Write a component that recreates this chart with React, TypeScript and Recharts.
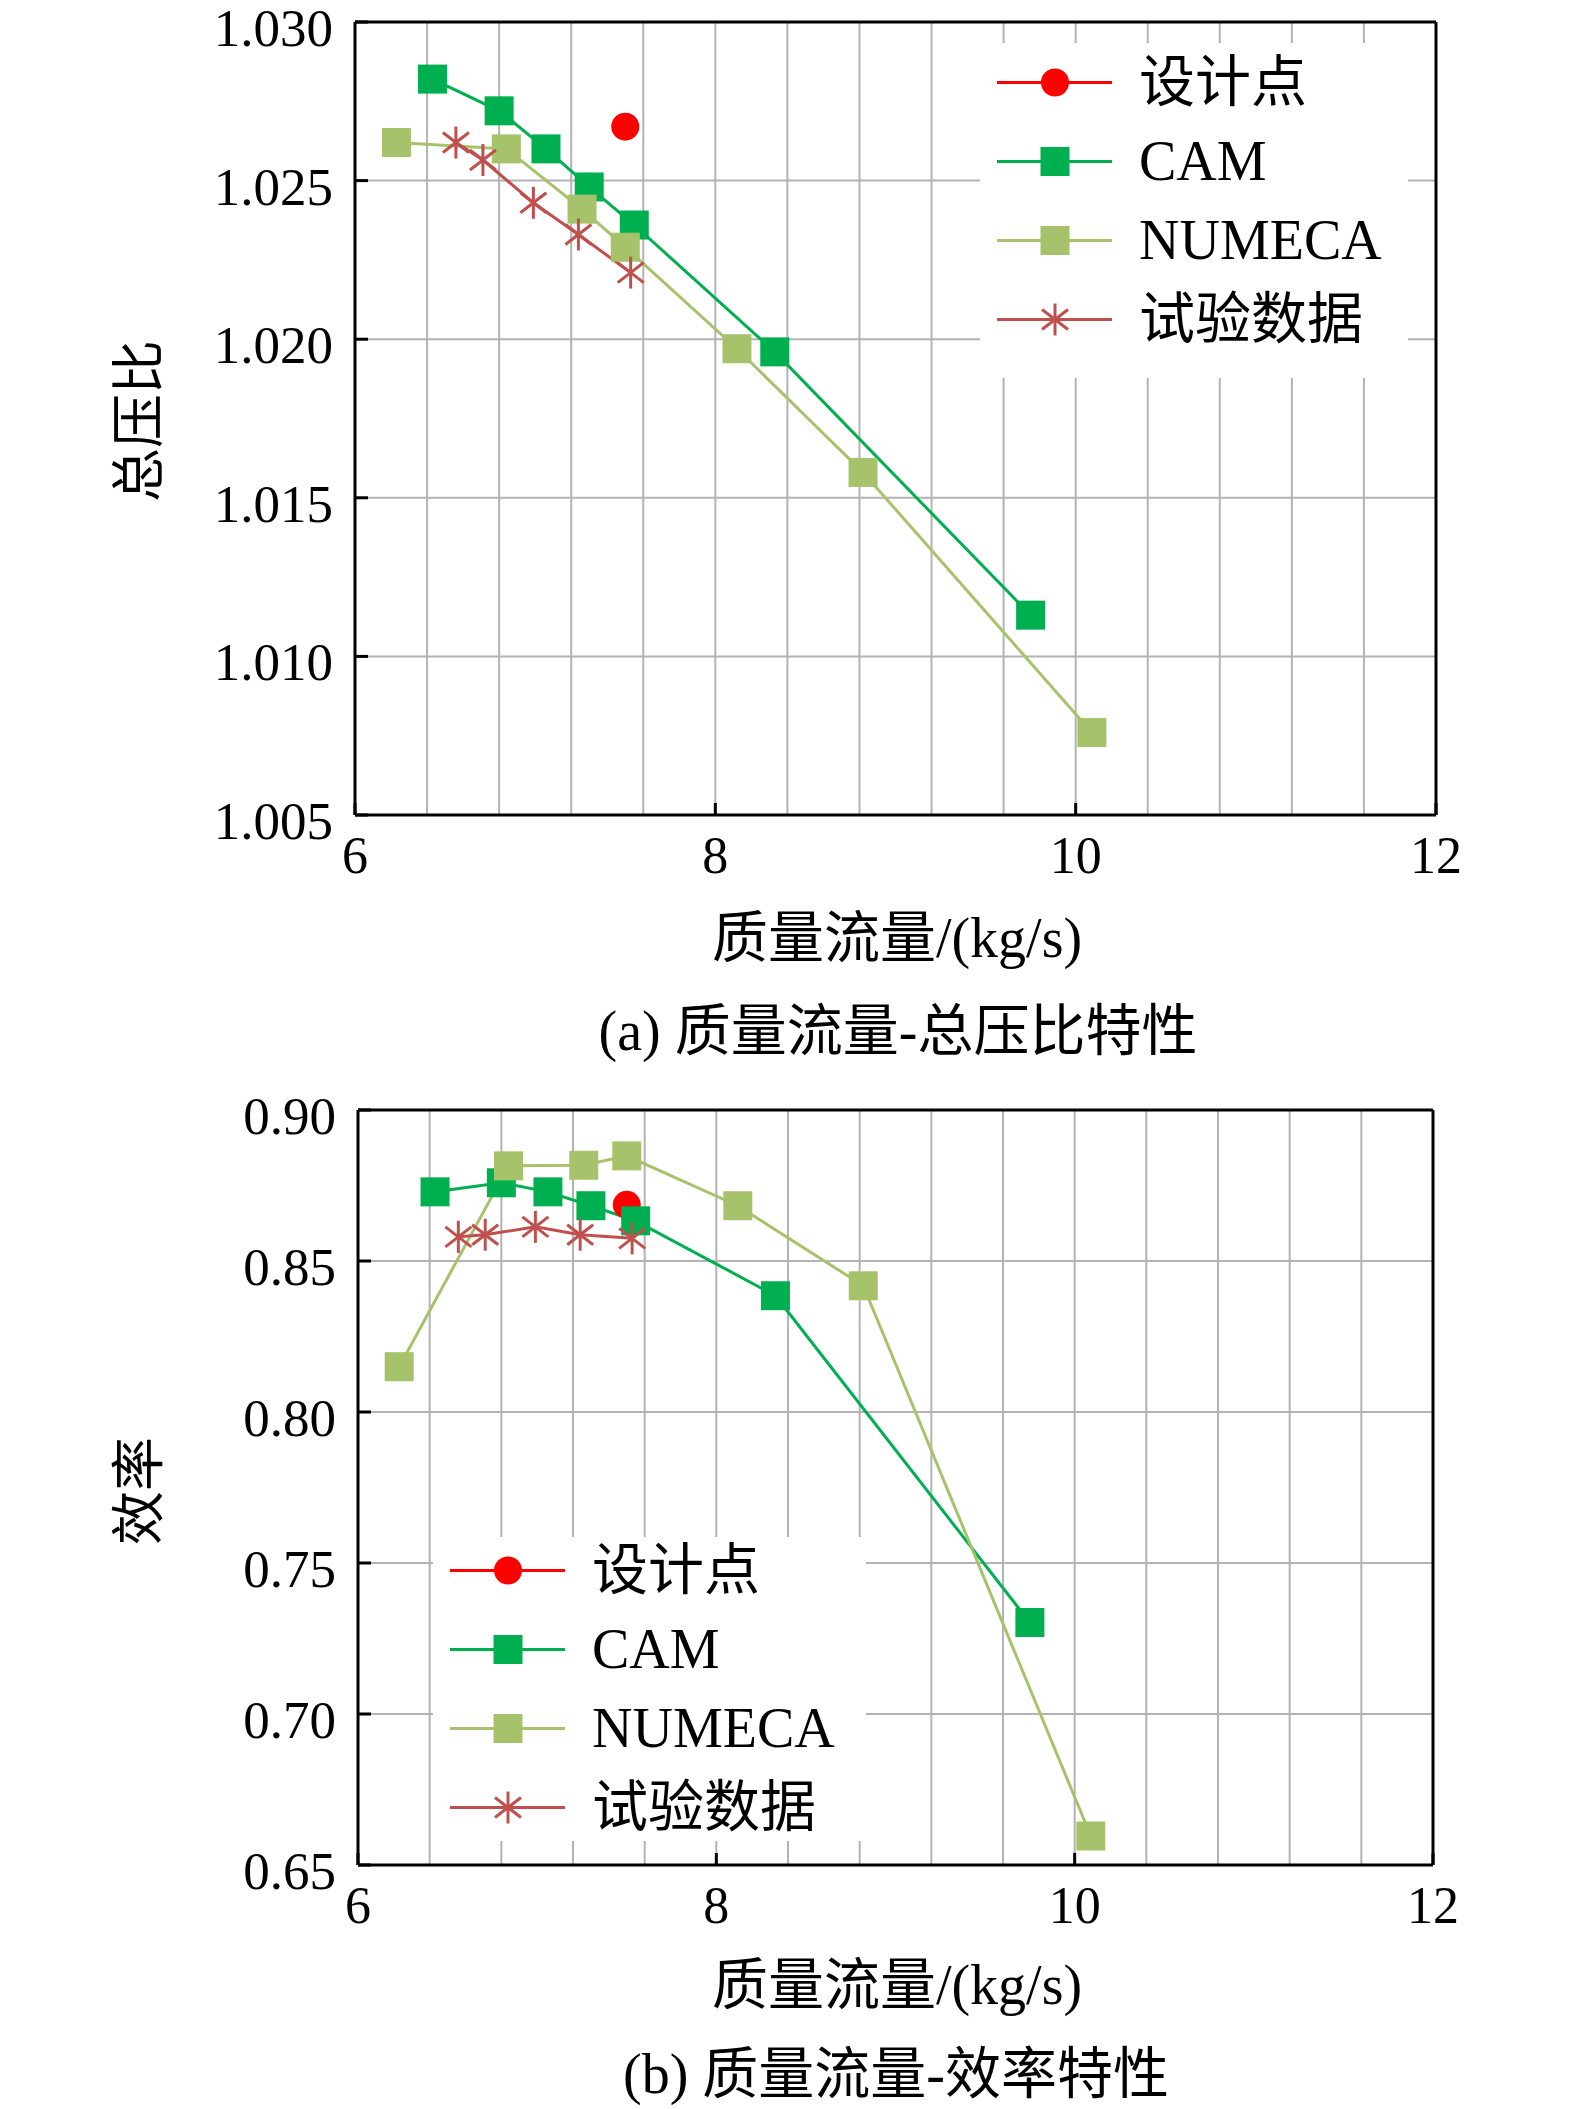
import {
  CartesianGrid,
  Legend,
  Line,
  LineChart,
  ReferenceLine,
  XAxis,
  YAxis
} from "recharts";

const FONT = '"Liberation Serif", "Noto Sans CJK SC", serif';

// mass flow (kg/s) for each series
const flowDesign = [7.5];
const flowCam = [6.43, 6.8, 7.06, 7.3, 7.55, 8.33, 9.75];
const flowNumeca = [6.23, 6.84, 7.26, 7.5, 8.12, 8.82, 10.09];
const flowTest = [6.56, 6.71, 6.99, 7.24, 7.53];

// (a) total pressure ratio
const ratioDesign = [1.0267];
const ratioCam = [1.0282, 1.0272, 1.026, 1.0248, 1.0236, 1.0196, 1.0113];
const ratioNumeca = [1.0262, 1.026, 1.0241, 1.0229, 1.0197, 1.0158, 1.0076];
const ratioTest = [1.0262, 1.02565, 1.0243, 1.0233, 1.0221];

// (b) efficiency
const effDesign = [0.8686];
const effCam = [0.8729, 0.8759, 0.8729, 0.8683, 0.8633, 0.8385, 0.7303];
const effNumeca = [0.815, 0.8815, 0.8817, 0.8848, 0.8683, 0.8418, 0.6596];
const effTest = [0.858, 0.8587, 0.8613, 0.8587, 0.8575];

const xTicks = [6, 8, 10, 12];
const gridX = [6.4, 6.8, 7.2, 7.6, 8, 8.4, 8.8, 9.2, 9.6, 10, 10.4, 10.8, 11.2, 11.6];
const ratioTicks = [1.005, 1.01, 1.015, 1.02, 1.025, 1.03];
const effTicks = [0.65, 0.7, 0.75, 0.8, 0.85, 0.9];

const seriesNames = ["设计点", "CAM", "NUMECA", "试验数据"];
const seriesColors = ["#FF0000", "#00B050", "#A6C36B", "#C0504D"];
const seriesMarkers = ["circle", "square", "square", "star"];

const zip = (xs: number[], ys: number[]) => xs.map((x, i) => ({ x, y: ys[i] }));

function Marker({ kind, cx, cy, color }: { kind: string; cx: number; cy: number; color: string }) {
  if (kind === "circle") return <circle cx={cx} cy={cy} r={14} fill={color} />;
  if (kind === "square") return <rect x={cx - 14.5} y={cy - 14.5} width={29} height={29} fill={color} />;
  return (
    <g stroke={color} strokeWidth={3}>
      <line x1={cx} y1={cy - 16} x2={cx} y2={cy + 16} />
      <line x1={cx - 13} y1={cy - 10} x2={cx + 13} y2={cy + 10} />
      <line x1={cx - 13} y1={cy + 10} x2={cx + 13} y2={cy - 10} />
    </g>
  );
}

const makeDot = (i: number) => (props: any) => {
  const { cx, cy, index } = props;
  if (cx == null || cy == null) return <g key={`d${i}-${index}`} />;
  return (
    <g key={`d${i}-${index}`}>
      <Marker kind={seriesMarkers[i]} cx={cx} cy={cy} color={seriesColors[i]} />
    </g>
  );
};

// ticks point into the plot; labels sit outside
const XTick = ({ x, y, payload }: any) => (
  <g>
    <line x1={x} x2={x} y1={y} y2={y - 12} stroke="#000" strokeWidth={3} />
    <text x={x} y={y + 40} textAnchor="middle" dominantBaseline="central" fontSize={52} fontFamily={FONT} fill="#000">
      {payload.value}
    </text>
  </g>
);

const makeYTick = (digits: number) => ({ x, y, payload }: any) => (
  <g>
    <line x1={x} x2={x + 13} y1={y} y2={y} stroke="#000" strokeWidth={3} />
    <text x={x - 22} y={y + 6} textAnchor="end" dominantBaseline="central" fontSize={53} fontFamily={FONT} fill="#000">
      {Number(payload.value).toFixed(digits)}
    </text>
  </g>
);

function LegendBox({ payload, shift }: any) {
  const items = seriesNames.filter((n) => (payload || []).some((p: any) => p.value === n));
  return (
    <div style={{ background: "#fff", width: "100%", height: "100%", fontFamily: FONT, fontSize: 56, color: "#000" }}>
      <div style={{ position: "relative", top: shift }}>
        {items.map((name) => {
          const i = seriesNames.indexOf(name);
          return (
            <div key={name} style={{ height: 79, display: "flex", alignItems: "center" }}>
              <svg width={140} height={79} style={{ flex: "none" }}>
                <line x1={17} x2={132} y1={39.5} y2={39.5} stroke={seriesColors[i]} strokeWidth={3} />
                <Marker kind={seriesMarkers[i]} cx={75} cy={39.5} color={seriesColors[i]} />
              </svg>
              <span style={{ marginLeft: 19, whiteSpace: "nowrap", lineHeight: "79px" }}>{name}</span>
            </div>
          );
        })}
      </div>
    </div>
  );
}

interface PanelProps {
  values: number[][];
  ticks: number[];
  digits: number;
  margin: { top: number; right: number; bottom: number; left: number };
  legendBox: { left: number; top: number; width: number; height: number; shift: number };
}

function Panel({ values, ticks, digits, margin, legendBox }: PanelProps) {
  const flows = [flowDesign, flowCam, flowNumeca, flowTest];
  const domain = [ticks[0], ticks[ticks.length - 1]];
  return (
    <LineChart width={1575} height={1059} margin={margin} style={{ overflow: "visible" }}>
      <CartesianGrid horizontal vertical={false} stroke="#b3b3b3" strokeWidth={2} />
      {gridX.map((g) => (
        <ReferenceLine key={g} x={g} stroke="#b3b3b3" strokeWidth={2} />
      ))}
      <XAxis
        dataKey="x"
        type="number"
        domain={[6, 12]}
        ticks={xTicks}
        interval={0}
        height={60}
        tick={<XTick />}
        tickSize={0}
        tickMargin={0}
        tickLine={false}
        axisLine={{ stroke: "#000", strokeWidth: 3 }}
      />
      <XAxis
        xAxisId="top"
        orientation="top"
        type="number"
        domain={[6, 12]}
        height={1}
        tick={false}
        tickLine={false}
        axisLine={{ stroke: "#000", strokeWidth: 3 }}
      />
      <YAxis
        type="number"
        domain={domain}
        ticks={ticks}
        interval={0}
        width={100}
        tick={makeYTick(digits)}
        tickSize={0}
        tickMargin={0}
        tickLine={false}
        axisLine={{ stroke: "#000", strokeWidth: 3 }}
      />
      <YAxis
        yAxisId="right"
        orientation="right"
        type="number"
        domain={domain}
        width={1}
        tick={false}
        tickLine={false}
        axisLine={{ stroke: "#000", strokeWidth: 3 }}
      />
      <Legend
        layout="vertical"
        align="center"
        verticalAlign="middle"
        wrapperStyle={{ left: legendBox.left, top: legendBox.top, width: legendBox.width, height: legendBox.height }}
        content={(p: any) => <LegendBox payload={p.payload} shift={legendBox.shift} />}
      />
      {seriesNames.map((name, i) => (
        <Line
          key={name}
          name={name}
          data={zip(flows[i], values[i])}
          dataKey="y"
          stroke={seriesColors[i]}
          strokeWidth={3}
          dot={makeDot(i)}
          activeDot={false}
          isAnimationActive={false}
        />
      ))}
    </LineChart>
  );
}

const textBase = { position: "absolute" as const, fontFamily: FONT, whiteSpace: "nowrap" as const, color: "#000", lineHeight: 1 };

function Caption({ x, y, size, rotate, children }: any) {
  return (
    <div
      style={{
        ...textBase,
        left: x,
        top: y,
        fontSize: size,
        transform: `translate(-50%, -50%)${rotate ? " rotate(-90deg)" : ""}`
      }}
    >
      {children}
    </div>
  );
}

export default function App() {
  return (
    <div style={{ position: "absolute", left: 0, top: 0, width: 1575, height: 2109, background: "#fff" }}>
      <div style={{ position: "absolute", left: 0, top: 0 }}>
        <Panel
          values={[ratioDesign, ratioCam, ratioNumeca, ratioTest]}
          ticks={ratioTicks}
          digits={3}
          margin={{ top: 21, right: 138, bottom: 184, left: 255 }}
          legendBox={{ left: 980, top: 43, width: 428, height: 335, shift: 0 }}
        />
      </div>
      <div style={{ position: "absolute", left: 0, top: 1050 }}>
        <Panel
          values={[effDesign, effCam, effNumeca, effTest]}
          ticks={effTicks}
          digits={2}
          margin={{ top: 59, right: 141, bottom: 184, left: 258 }}
          legendBox={{ left: 433, top: 487, width: 433, height: 304, shift: -6 }}
        />
      </div>
      <Caption x={140} y={421} size={54} rotate>总压比</Caption>
      <Caption x={897} y={938} size={56}>质量流量/(kg/s)</Caption>
      <Caption x={898} y={1031} size={56}>(a) 质量流量-总压比特性</Caption>
      <Caption x={140} y={1491} size={54} rotate>效率</Caption>
      <Caption x={897} y={1985} size={56}>质量流量/(kg/s)</Caption>
      <Caption x={896} y={2074} size={56}>(b) 质量流量-效率特性</Caption>
    </div>
  );
}
